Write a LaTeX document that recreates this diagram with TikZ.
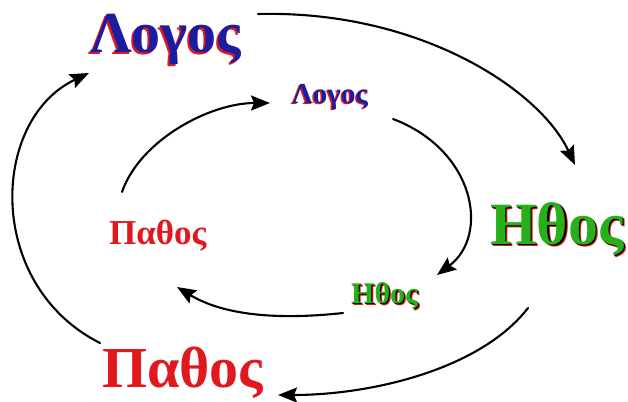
\documentclass[tikz,border=0pt]{standalone}
\usepackage{fontspec}
\setmainfont{Liberation Serif}
\usetikzlibrary{arrows.meta}
\definecolor{logblue}{RGB}{28,28,160}
\definecolor{shred}{RGB}{225,25,30}
\definecolor{ethgreen}{RGB}{40,175,25}
\newcommand\layer[4]{\rlap{\kern#1\raisebox{#2}{\color{#3}#4}}}
\newcommand\sz[1]{\fontsize{#1}{#1}\selectfont\bfseries}
\tikzset{
  word/.style={inner sep=0pt, anchor=base west},
  arr/.style={line width=2.1pt, line cap=round, -{Stealth[length=19pt,width=15pt,inset=3pt]}},
}
\begin{document}
\begin{tikzpicture}[x=1pt,y=-1pt]
\useasboundingbox[fill=white] (0,0) rectangle (628,401);
% big words
\node[word] (LB) at (90,53) {\sz{58pt}\layer{-2pt}{-2pt}{shred}{Λογος}\textcolor{logblue}{Λογος}};
\node[word] (HB) at (490,244) {\sz{60pt}\layer{2.5pt}{-2.5pt}{shred}{Ηθος}\layer{1.2pt}{-1.2pt}{black}{Ηθος}\textcolor{ethgreen}{Ηθος}};
\node[word] (PB) at (102,387) {\sz{58pt}\textcolor{shred}{Παθος}};
% small words
\node[word] (LS) at (292,103) {\sz{29pt}\layer{-1.5pt}{-1.5pt}{shred}{Λογος}\textcolor{logblue}{Λογος}};
\node[word] (HS) at (351,303) {\sz{30pt}\layer{2pt}{-2pt}{shred}{Ηθος}\layer{1pt}{-1pt}{black}{Ηθος}\textcolor{ethgreen}{Ηθος}};
\node[word] (PS) at (109,244) {\sz{35pt}\textcolor{shred}{Παθος}};
% connector ends
\coordinate (a1) at (258,14);  \coordinate (b1) at (575,165);
\coordinate (a2) at (393,119); \coordinate (b2) at (437,275);
\coordinate (a3) at (343,313); \coordinate (b3) at (177,287);
\coordinate (a4) at (122,192); \coordinate (b4) at (270,103);
\coordinate (a5) at (100,343); \coordinate (b5) at (89,73);
\coordinate (a6) at (528,308); \coordinate (b6) at (278,395);
% outer cycle
\draw[arr] (a1) .. controls (420,10) and (540,90) .. (b1);
\draw[arr] (a6) .. controls (480,370) and (370,395) .. (b6);
\draw[arr] (a5) .. controls (-15,285) and (-10,120) .. (b5);
% inner cycle
\draw[arr] (a2) .. controls (475,150) and (490,235) .. (b2);
\draw[arr] (a3) .. controls (260,322) and (215,310) .. (b3);
\draw[arr] (a4) .. controls (140,140) and (210,103) .. (b4);
\end{tikzpicture}
\end{document}
